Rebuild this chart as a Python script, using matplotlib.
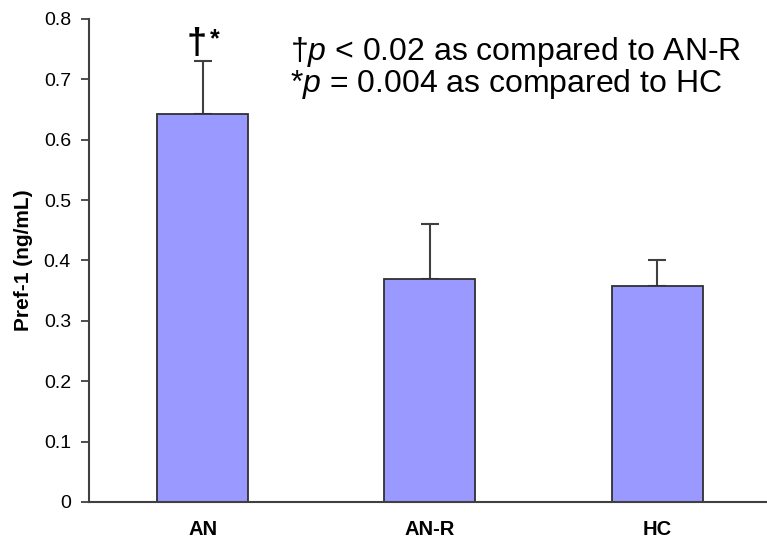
import matplotlib
matplotlib.use('Agg')
import matplotlib.pyplot as plt
import numpy as np

plt.rcParams['font.family'] = ['Liberation Sans', 'DejaVu Sans']
plt.rcParams['mathtext.fontset'] = 'custom'
plt.rcParams['mathtext.rm'] = 'Liberation Sans'
plt.rcParams['mathtext.it'] = 'Liberation Sans:italic'

groups = ['AN', 'AN-R', 'HC']
means = [0.643, 0.369, 0.358]
sem = [0.087, 0.092, 0.043]
yticks = [0, 0.1, 0.2, 0.3, 0.4, 0.5, 0.6, 0.7, 0.8]
ylabel = 'Pref-1 (ng/mL)'
note_lines = ['†$p$ < 0.02 as compared to AN-R',
              '*$p$ = 0.004 as compared to HC']

axcol = '#404040'

fig = plt.figure(figsize=(7.67, 5.47), dpi=100)
ax = fig.add_axes([0.116, 0.0823, 0.889, 0.883])

x = np.arange(len(groups))
ax.bar(x, means, width=0.4, color='#9999FF', edgecolor='#303030', linewidth=1.3, zorder=2)
ax.errorbar(x, means, yerr=[np.zeros(len(sem)), sem], fmt='none',
            ecolor=axcol, elinewidth=1.5, capsize=6.5, capthick=1.5, zorder=1)

ax.set_xlim(-0.5, 2.5)
ax.set_ylim(0, 0.8)
ax.set_yticks(yticks)
ax.set_yticklabels([f'{t:g}' for t in yticks], fontsize=14)
ax.set_xticks(x)
ax.set_xticklabels(groups, fontsize=14.5, fontweight='bold')
ax.tick_params(axis='x', length=0, pad=13)
ax.tick_params(axis='y', length=6, width=1.3, color=axcol, pad=7)
ax.set_ylabel(ylabel, fontsize=15, fontweight='bold', labelpad=8)

for side in ['top', 'right']:
    ax.spines[side].set_visible(False)
for side in ['left', 'bottom']:
    ax.spines[side].set_color(axcol)
    ax.spines[side].set_linewidth(1.5)

# significance marker above AN
mark_y = means[0] + sem[0] + 0.012
ax.text(x[0] + 0.02, mark_y, '†', ha='right', va='baseline',
        fontsize=26, fontweight='bold')
ax.text(x[0] + 0.03, mark_y + 0.013, '*', ha='left', va='baseline',
        fontsize=18, fontweight='bold')

ax.text(0.295, 0.915, note_lines[0], transform=ax.transAxes, fontsize=23,
        ha='left', va='baseline')
ax.text(0.295, 0.849, note_lines[1], transform=ax.transAxes, fontsize=23,
        ha='left', va='baseline')

fig.savefig('out.png', dpi=100)
